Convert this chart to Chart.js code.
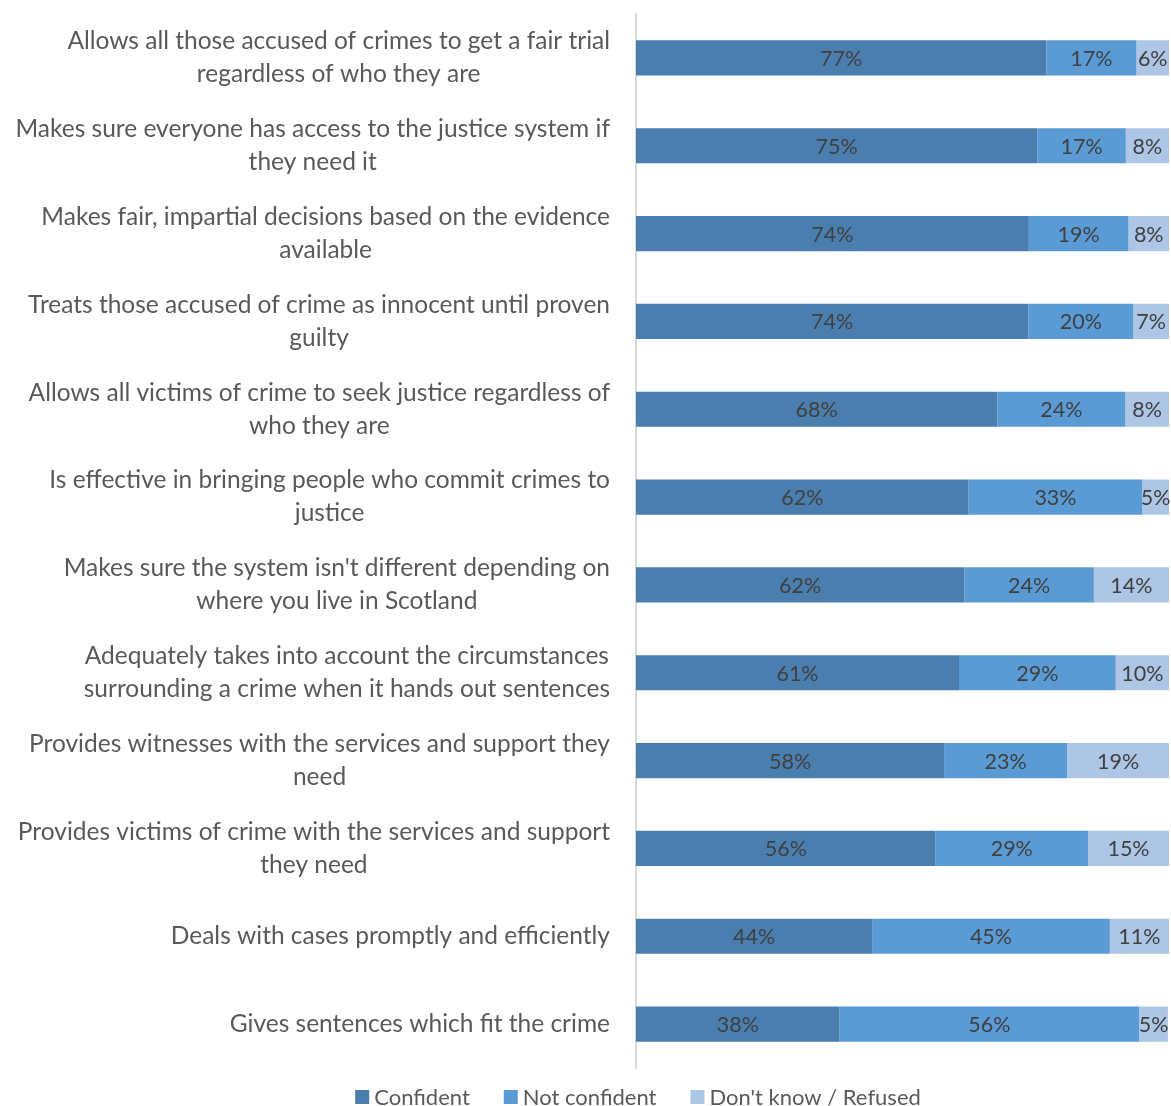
<!DOCTYPE html>
<html>
<head>
<meta charset="utf-8">
<script src="https://cdn.jsdelivr.net/npm/chart.js@4/dist/chart.umd.min.js"></script>
<style>
  html, body { margin: 0; padding: 0; background: #ffffff; }
  #wrap { width: 1171px; height: 1106px; position: relative; }
</style>
</head>
<body>
<div id="wrap"><canvas id="c"></canvas></div>
<script>
// Category labels (wrapped as in the reference)
const categories = [
  ["Allows all those accused of crimes to get a fair trial", "regardless of who they are"],
  ["Makes sure everyone has access to the justice system if", "they need it"],
  ["Makes fair, impartial decisions based on the evidence", "available"],
  ["Treats those accused of crime as innocent until proven", "guilty"],
  ["Allows all victims of crime to seek justice regardless of", "who they are"],
  ["Is effective in bringing people who commit crimes to", "justice"],
  ["Makes sure the system isn't different depending on", "where you live in Scotland"],
  ["Adequately takes into account the circumstances", "surrounding a crime when it hands out sentences"],
  ["Provides witnesses with the services and support they", "need"],
  ["Provides victims of crime with the services and support", "they need"],
  ["Deals with cases promptly and efficiently"],
  ["Gives sentences which fit the crime"]
];

const seriesNames = ["Confident", "Not confident", "Don't know / Refused"];

const confident    = [77.0, 75.3, 73.7, 73.6, 67.8, 62.4, 61.6, 60.6, 57.8, 56.2, 44.3, 38.2];
const notConfident = [16.9, 16.6, 18.7, 19.7, 24.0, 32.6, 24.3, 29.4, 23.1, 28.6, 44.6, 56.2];
const dontKnow     = [ 6.1,  8.1,  7.6,  6.7,  8.2,  5.0, 14.1, 10.0, 19.1, 15.2, 11.1,  5.4];

const colors = ["#4a7eae", "#5b9bd5", "#adc6e6"];

const PLOT_LEFT = 637;
const LABEL_RIGHT = 610;
const LABEL_FONT = "24.5px Lato";
const LABEL_LINE_H = 33;

const labelsPlugin = {
  id: 'customText',
  afterDraw(chart) {
    const ctx = chart.ctx;
    const yScale = chart.scales.y;
    ctx.save();
    // Category labels: each block right-aligned, lines centred within block
    ctx.font = LABEL_FONT;
    ctx.fillStyle = "#595959";
    ctx.textAlign = "center";
    ctx.textBaseline = "middle";
    categories.forEach((lines, i) => {
      const yc = yScale.getPixelForValue(i);
      let maxW = 0;
      lines.forEach(l => { maxW = Math.max(maxW, ctx.measureText(l).width); });
      const cx = LABEL_RIGHT - maxW / 2;
      const y0 = yc - (lines.length - 1) * LABEL_LINE_H / 2;
      lines.forEach((l, k) => ctx.fillText(l, cx, y0 + k * LABEL_LINE_H));
    });

    // Data labels
    ctx.font = "21.5px Lato";
    ctx.fillStyle = "#404040";
    chart.data.datasets.forEach((ds, di) => {
      const meta = chart.getDatasetMeta(di);
      meta.data.forEach((bar, i) => {
        const x = (bar.x + bar.base) / 2;
        ctx.fillText(Math.round(ds.data[i]) + "%", x, bar.y + 1);
      });
    });

    // Legend
    ctx.font = "22px Lato";
    ctx.textAlign = "left";
    const box = 14, gapBoxText = 5, gapItems = 34;
    const widths = seriesNames.map(n => box + gapBoxText + ctx.measureText(n).width);
    const total = widths.reduce((a, b) => a + b, 0) + gapItems * (seriesNames.length - 1);
    let x = 638 - total / 2;
    const ly = 1097;
    seriesNames.forEach((n, i) => {
      ctx.fillStyle = colors[i];
      ctx.fillRect(x, ly - box / 2, box, box);
      ctx.fillStyle = "#595959";
      ctx.fillText(n, x + box + gapBoxText, ly + 1);
      x += widths[i] + gapItems;
    });
    ctx.restore();
  }
};

new Chart(document.getElementById('c'), {
  type: 'bar',
  data: {
    labels: categories.map(l => l.join(' ')),
    datasets: [
      { label: seriesNames[0], data: confident,    backgroundColor: colors[0] },
      { label: seriesNames[1], data: notConfident, backgroundColor: colors[1] },
      { label: seriesNames[2], data: dontKnow,     backgroundColor: colors[2] }
    ]
  },
  options: {
    indexAxis: 'y',
    responsive: true,
    maintainAspectRatio: false,
    animation: false,
    layout: { padding: { top: 14, bottom: 38, left: 0, right: 2 } },
    datasets: { bar: { categoryPercentage: 1.0, barPercentage: 0.4, borderWidth: 0 } },
    plugins: {
      legend: { display: false },
      tooltip: { enabled: false }
    },
    scales: {
      x: {
        stacked: true,
        min: 0,
        max: 100,
        display: false
      },
      y: {
        stacked: true,
        grid: { display: false },
        border: { display: true, color: "#d9d9d9", width: 2 },
        ticks: { display: false },
        afterFit(scale) { scale.width = PLOT_LEFT - 1; }
      }
    }
  },
  plugins: [labelsPlugin]
});
</script>
</body>
</html>
